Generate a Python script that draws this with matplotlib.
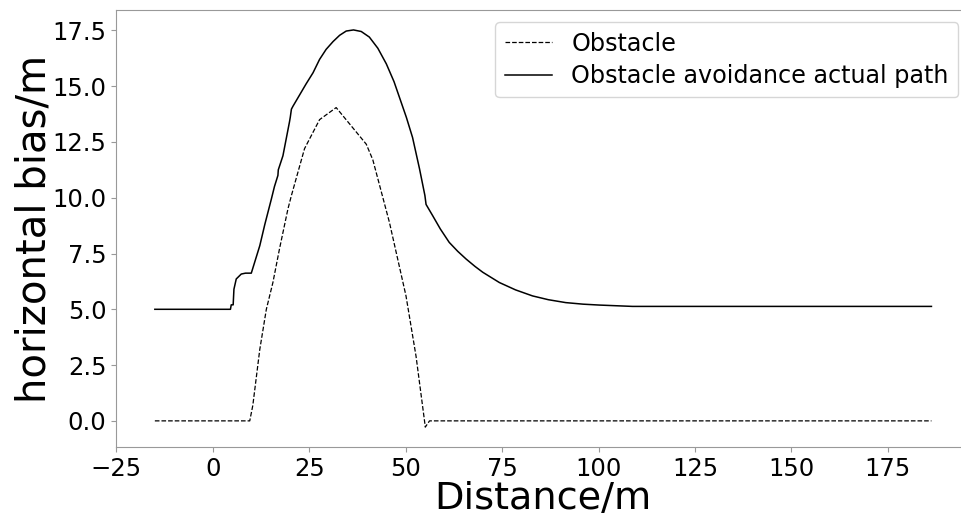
import matplotlib
matplotlib.use('Agg')
import matplotlib.pyplot as plt

# obstacle outline (dashed)
obs_x = [-15, 9.6, 10.4, 12.2, 13.9, 15.6, 17.3, 19.5, 20.4, 23.8, 27.7, 32.0,
         39.8, 41.5, 45.8, 50.1, 52.7, 54.9, 55.1, 56.2, 186.3]
obs_y = [0, 0, 0.7, 3.2, 5.0, 6.2, 7.7, 9.5, 10.1, 12.2, 13.5, 14.04,
         12.4, 11.7, 8.9, 5.6, 2.9, 0.0, -0.28, 0, 0]

# actual path when avoiding the obstacle
path_x = [-15, 4.6, 4.8, 5.3, 5.5, 6.1, 7.4, 8.5, 10.0, 12.2, 13.5, 15.2, 16.0,
          16.9, 17.0, 18.2, 19.9, 20.1, 20.4, 20.8, 22.5, 24.2, 26.0, 27.7,
          29.4, 31.2, 32.9, 34.6, 36.5, 38.5, 40.6, 42.8, 45.0, 47.0, 48.6,
          50.2, 51.8, 53.6, 55.0, 55.3, 57.0, 59.0, 61.3, 63.5, 65.7, 68.0,
          70.0, 74.3, 78.5, 82.9, 87.0, 91.5, 96.0, 100.2, 108.8, 186.3]
path_y = [5.0, 5.0, 5.2, 5.2, 5.9, 6.36, 6.58, 6.62, 6.62, 7.85, 8.8, 9.94, 10.5,
          11.0, 11.25, 11.88, 13.4, 13.6, 13.97, 14.1, 14.6, 15.1, 15.6, 16.2,
          16.65, 17.0, 17.28, 17.47, 17.52, 17.45, 17.2, 16.7, 16.0, 15.2, 14.4,
          13.6, 12.7, 11.3, 10.1, 9.7, 9.2, 8.6, 8.0, 7.6, 7.25, 6.92,
          6.66, 6.2, 5.87, 5.6, 5.43, 5.3, 5.23, 5.19, 5.13, 5.13]

fig = plt.figure(figsize=(9.62, 5.14), dpi=100)
ax = fig.add_axes([0.1206, 0.1304, 0.888, 0.850])

ax.plot(obs_x, obs_y, color='black', linestyle='--', linewidth=0.9, label='Obstacle')
ax.plot(path_x, path_y, color='black', linewidth=1.1, label='Obstacle avoidance actual path')

ax.set_xlabel('Distance/m', fontsize=27.5, labelpad=0)
ax.set_ylabel('horizontal bias/m', fontsize=29, labelpad=-2)
ax.tick_params(labelsize=17.5, color='#999999')
for s in ax.spines.values():
    s.set_color('#999999')
ax.spines['right'].set_visible(False)

ax.legend(fontsize=17.2, loc='upper right', labelspacing=0.35)

fig.savefig('out.png', dpi=100)
